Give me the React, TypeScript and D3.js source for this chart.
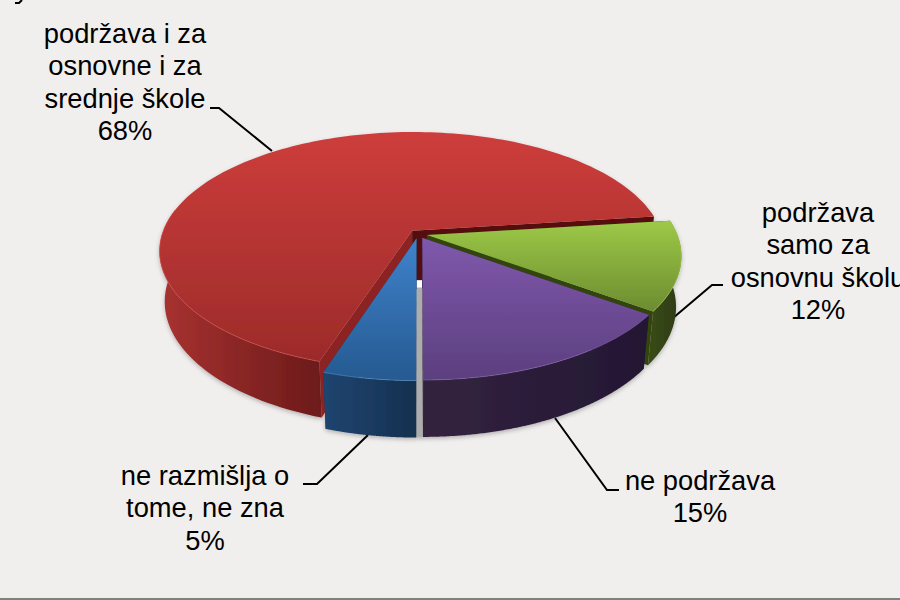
import React from 'react';
import * as d3 from 'd3';

const categories = ['podržava i za osnovne i za srednje škole', 'podržava samo za osnovnu školu', 'ne podržava', 'ne razmišlja o tome, ne zna'];
const values = [68, 12, 15, 5];
const sliceKeys = ['red', 'green', 'purple', 'blue'];

const topColors = [['#cd3d3b', '#9c2b2a'], ['#9dc947', '#6c8c30'], ['#7f58ac', '#5c3f7f'], ['#3f82cc', '#255a90']];
const wallColors = [['#a83230', '#6c1a1a'], ['#3a4c1a', '#2c3a12'], ['#33233f', '#241733'], ['#1d4570', '#17304f']];
const radialColors = [['#8c2222', '#561010'], ['#33450f', '#33450f'], ['#241733', '#241733'], ['#17304f', '#17304f']];
const rimColors = ['#d9534f', '#a9d45a', '#8a65b5', '#5a9ad8'];

const labelLines = [
  ['podržava i za', 'osnovne i za', 'srednje škole', '68%'],
  ['podržava', 'samo za', 'osnovnu školu', '12%'],
  ['ne podržava', '15%'],
  ['ne razmišlja o', 'tome, ne zna', '5%'],
];
const labelAnchors = [[125, 43], [818, 222], [700, 490], [205, 485]];
const leaders = [
  [[210, 108], [219, 108], [272, 151]],
  [[723, 285], [712, 285], [673, 318]],
  [[555, 418], [607, 490], [619, 490]],
  [[368, 435], [317, 484], [303, 484]],
];

const cx = 418;
const cy = 234;
const radius = 250;
const squash = 116.5;
const persp = 0.17;
const depth = 51;
const depthPersp = 0.02;
const explode = 0.037;

const deg = Math.PI / 180;

const pie = d3.pie<number>().sort(null).startAngle(198 * deg).endAngle(558 * deg);
const arcs = pie(values);

function project(u: number, v: number, z: number): [number, number] {
  const s = 1 / (1 - persp * v + depthPersp * z);
  return [cx + radius * u * s, cy + squash * v * s + depth * z * s];
}

function offsetOf(a: {startAngle: number; endAngle: number}): [number, number] {
  const mid = (a.startAngle + a.endAngle) / 2;
  return [Math.sin(mid) * explode, -Math.cos(mid) * explode];
}

const line = d3.line();

function angleSteps(a: {startAngle: number; endAngle: number}) {
  return d3.range(0, 161).map((i) => a.startAngle + (a.endAngle - a.startAngle) * i / 160);
}

function rimAt(a: {startAngle: number; endAngle: number}, steps: number[], z: number) {
  const [ox, oy] = offsetOf(a);
  return steps.map((t) => project(Math.sin(t) + ox, -Math.cos(t) + oy, z));
}

// only the part of the arc that faces the viewer, walking from the slice start
function frontSteps(a: {startAngle: number; endAngle: number}) {
  const steps = angleSteps(a);
  const stop = steps.findIndex((t) => -Math.cos(t) < -0.2);
  return stop < 0 ? steps : steps.slice(0, stop);
}

export default function App() {
  const redBack = project(offsetOf(arcs[0])[0], offsetOf(arcs[0])[1], 1);
  const blueEdge = project(offsetOf(arcs[3])[0], 1 + offsetOf(arcs[3])[1], 1);
  const purpleEdge = project(offsetOf(arcs[2])[0], 1 + offsetOf(arcs[2])[1], 1);

  return (
    <svg width={900} height={600} style={{position: 'fixed', left: 0, top: 0, display: 'block'}}
         fontFamily="'Liberation Sans', Arial, sans-serif">
      <defs>
        {sliceKeys.map((k, i) => (
          <React.Fragment key={k}>
            <linearGradient id={`top-${k}`} x1="0" y1="0" x2="0" y2="1">
              <stop offset="0" stopColor={topColors[i][0]}/>
              <stop offset="1" stopColor={topColors[i][1]}/>
            </linearGradient>
            <linearGradient id={`wall-${k}`} x1="0" y1="0" x2="1" y2="0">
              <stop offset="0" stopColor={wallColors[i][0]}/>
              <stop offset="1" stopColor={wallColors[i][1]}/>
            </linearGradient>
          </React.Fragment>
        ))}
        <filter id="soft" x="-5%" y="-5%" width="110%" height="115%">
          <feDropShadow dx="0" dy="2" stdDeviation="2" floodColor="#000" floodOpacity="0.25"/>
        </filter>
      </defs>

      <rect x={0} y={0} width={900} height={600} fill="#f1eeee"/>
      <rect x={0} y={598} width={900} height={2} fill="#808080"/>
      {/* bit of a cut off title */}
      <path d="M22 0 L19 3 L15 3" fill="none" stroke="#000" strokeWidth={2}/>

      {leaders.map((pts, i) => (
        <path key={categories[i]} d={line(pts as [number, number][])!} fill="none" stroke="#000" strokeWidth={2}/>
      ))}

      <g filter="url(#soft)">
        {arcs.map((a, i) => {
          const k = sliceKeys[i];
          const [ox, oy] = offsetOf(a);
          const all = angleSteps(a);
          const front = frontSteps(a);
          const top = rimAt(a, all, 0);
          const frontTop = rimAt(a, front, 0);
          const frontBottom = rimAt(a, front, 1);
          const bottom = rimAt(a, all, 1);
          const apexTop = project(ox, oy, 0);
          const apexBottom = project(ox, oy, 1);
          const startWall = [apexTop, top[0], bottom[0], apexBottom];
          const endWall = [apexTop, top[top.length - 1], bottom[bottom.length - 1], apexBottom];
          return (
            <g key={k}>
              {i === 2 && (
                <>
                  <rect x={blueEdge[0] - 2} y={redBack[1]} width={purpleEdge[0] - blueEdge[0] + 4}
                        height={purpleEdge[1] - redBack[1]} fill="#adadad"/>
                  <rect x={blueEdge[0] - 2} y={redBack[1]} width={purpleEdge[0] - blueEdge[0] + 4}
                        height={7} fill="#ffffff"/>
                </>
              )}
              <path d={line(startWall)! + 'Z'} fill={radialColors[i][0]}/>
              <path d={line(endWall)! + 'Z'} fill={radialColors[i][1]}/>
              <path d={line([...frontTop, ...frontBottom.slice().reverse()])! + 'Z'} fill={`url(#wall-${k})`}/>
              <path d={line([apexTop, ...top])! + 'Z'} fill={`url(#top-${k})`}/>
              <path d={line(frontTop)!} fill="none" stroke={rimColors[i]} strokeWidth={1} strokeOpacity={0.6}/>
            </g>
          );
        })}
      </g>

      {labelLines.map((lines, i) => (
        <text key={categories[i]} x={labelAnchors[i][0]} y={labelAnchors[i][1]} fontSize={27.3} textAnchor="middle" fill="#000">
          {lines.map((t, j) => (
            <tspan key={t} x={labelAnchors[i][0]} y={labelAnchors[i][1] + j * 32.3}>{t}</tspan>
          ))}
        </text>
      ))}
    </svg>
  );
}
